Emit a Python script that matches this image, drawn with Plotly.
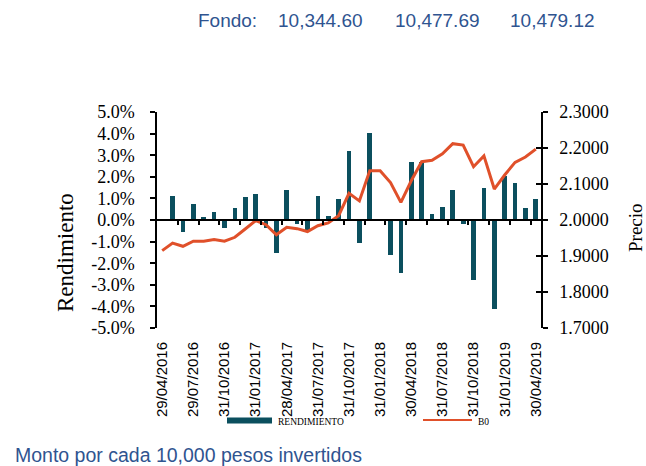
import plotly.graph_objects as go

# ---------------- data ----------------
meses = ["2016-04", "2016-05", "2016-06", "2016-07", "2016-08", "2016-09", "2016-10",
         "2016-11", "2016-12", "2017-01", "2017-02", "2017-03", "2017-04", "2017-05",
         "2017-06", "2017-07", "2017-08", "2017-09", "2017-10", "2017-11", "2017-12",
         "2018-01", "2018-02", "2018-03", "2018-04", "2018-05", "2018-06", "2018-07",
         "2018-08", "2018-09", "2018-10", "2018-11", "2018-12", "2019-01", "2019-02",
         "2019-03", "2019-04"]

rendimiento_pct = [0.00, 1.12, -0.54, 0.72, 0.14, 0.37, -0.35, 0.54, 1.05, 1.20,
                   -0.38, -1.54, 1.38, -0.20, -0.46, 1.12, 0.20, 0.97, 3.20, -1.05,
                   4.05, 0.02, -1.62, -2.46, 2.69, 2.69, 0.28, 0.62, 1.38, -0.20,
                   -2.77, 1.46, -4.11, 2.03, 1.72, 0.54, 0.97]

precio_b0 = [1.915, 1.936, 1.927, 1.941, 1.941, 1.946, 1.941, 1.952, 1.975, 1.998,
             1.987, 1.959, 1.980, 1.976, 1.968, 1.984, 1.992, 2.012, 2.074, 2.053,
             2.137, 2.137, 2.104, 2.049, 2.109, 2.162, 2.166, 2.184, 2.212, 2.208,
             2.148, 2.178, 2.086, 2.125, 2.160, 2.175, 2.197]

etiquetas_fecha = ["29/04/2016", "29/07/2016", "31/10/2016", "31/01/2017", "28/04/2017",
                   "31/07/2017", "31/10/2017", "31/01/2018", "30/04/2018", "31/07/2018",
                   "31/10/2018", "31/01/2019", "30/04/2019"]

y1_ticks = [0.05, 0.04, 0.03, 0.02, 0.01, 0.0, -0.01, -0.02, -0.03, -0.04, -0.05]
y1_text = ["5.0%", "4.0%", "3.0%", "2.0%", "1.0%", "0.0%", "-1.0%", "-2.0%",
           "-3.0%", "-4.0%", "-5.0%"]
y2_ticks = [2.3, 2.2, 2.1, 2.0, 1.9, 1.8, 1.7]
y2_text = ["2.3000", "2.2000", "2.1000", "2.0000", "1.9000", "1.8000", "1.7000"]

fondo_valores = ["10,344.60", "10,477.69", "10,479.12"]

# ---------------- layout geometry (page pixels) ----------------
W, H = 646, 466
PL, PR, PT, PB = 157, 541, 112, 328          # plot box in page pixels
L, R, T, B = PL, W - PR, PT, H - PB
PW, PH = PR - PL, PB - PT


def px(x):
    return (x - PL) / PW


def py(y):
    return (PB - y) / PH


BAR = "#0B4F5E"
LINE = "#E0502A"
BLUE = "#2F5490"
SERIF = "Liberation Serif, Times New Roman, serif"
SANS = "Liberation Sans, Arial, sans-serif"

idx = list(range(len(meses)))
rend = [v / 100 for v in rendimiento_pct]

fig = go.Figure()
fig.add_trace(go.Bar(x=idx, y=rend, name="RENDIMIENTO", marker_color=BAR,
                     marker_line_width=0, width=0.45, customdata=meses,
                     hovertemplate="%{customdata}: %{y:.2%}<extra></extra>"))
fig.add_trace(go.Scatter(x=idx, y=precio_b0, name="B0", yaxis="y2", mode="lines",
                         line=dict(color=LINE, width=3), customdata=meses,
                         hovertemplate="%{customdata}: %{y:.4f}<extra></extra>"))
# helper traces so the extra axes are drawn
fig.add_trace(go.Scatter(x=[], y=[], xaxis="x2", yaxis="y", showlegend=False, hoverinfo="skip"))
fig.add_trace(go.Scatter(x=[], y=[], yaxis="y3", showlegend=False, hoverinfo="skip"))

fig.update_layout(
    width=W, height=H, margin=dict(l=L, r=R, t=T, b=B, pad=0),
    paper_bgcolor="white", plot_bgcolor="white", showlegend=False, bargap=0,
    xaxis=dict(range=[-0.5, len(idx) - 0.5], tickmode="array",
               tickvals=idx[::3], ticktext=etiquetas_fecha, tickangle=-90,
               ticks="", showline=False, showgrid=False, zeroline=False,
               tickfont=dict(family=SANS, size=15, color="black"),
               ticklabelstandoff=10),
    xaxis2=dict(range=[-0.5, len(idx) - 0.5], overlaying="x", anchor="free",
                position=0.5, side="bottom", showline=True, linecolor="black",
                linewidth=1.5, ticks="outside", ticklen=4, tickwidth=1.5,
                tickcolor="black", tickmode="array",
                tickvals=[i + 0.5 for i in range(1, len(idx) - 1, 2)],
                showticklabels=False, showgrid=False, zeroline=False),
    yaxis=dict(range=[-0.05, 0.05], tickmode="array", tickvals=y1_ticks,
               ticktext=y1_text, ticks="outside", ticklen=5, tickwidth=1.5,
               tickcolor="black", showline=True, linecolor="black", linewidth=1.5,
               showgrid=False, zeroline=False,
               tickfont=dict(family=SERIF, size=18, color="black"),
               ticklabelstandoff=12),
    yaxis2=dict(range=[1.7, 2.3], overlaying="y", side="right", tickmode="array",
                tickvals=y2_ticks, ticktext=y2_text, ticks="outside", ticklen=5,
                tickwidth=1.5, tickcolor="black", showline=True, linecolor="black",
                linewidth=1.5, showgrid=False, zeroline=False,
                tickfont=dict(family=SERIF, size=18, color="black"),
                ticklabelstandoff=8),
    yaxis3=dict(range=[1.7, 2.3], overlaying="y", side="right", tickmode="array",
                tickvals=y2_ticks, ticks="inside", ticklen=5, tickwidth=1.5,
                tickcolor="black", showticklabels=False, showline=False,
                showgrid=False, zeroline=False),
)

ann = []
# axis titles
ann.append(dict(text="Rendimiento", x=px(65), y=py(253), textangle=-90,
                font=dict(family=SERIF, size=23, color="black")))
ann.append(dict(text="Precio", x=px(635), y=py(228), textangle=-90,
                font=dict(family=SERIF, size=19, color="black")))
# header
ann.append(dict(text="Fondo:", x=px(196), y=py(20), xanchor="left",
                font=dict(family=SANS, size=19, color=BLUE)))
for xpos, v in zip([276, 393, 508], fondo_valores):
    ann.append(dict(text=v, x=px(xpos), y=py(20), xanchor="left",
                    font=dict(family=SANS, size=19, color=BLUE)))
# footer
ann.append(dict(text="Monto por cada 10,000 pesos invertidos", x=px(13), y=py(455),
                xanchor="left", font=dict(family=SANS, size=19.5, color=BLUE)))
# legend labels
ann.append(dict(text="RENDIMIENTO", x=px(276), y=py(422), xanchor="left",
                font=dict(family=SERIF, size=9.5, color="black")))
ann.append(dict(text="B0", x=px(476), y=py(422), xanchor="left",
                font=dict(family=SERIF, size=9.5, color="black")))
for a in ann:
    a.update(xref="paper", yref="paper", showarrow=False, yanchor="middle")
    a.setdefault("xanchor", "center")
fig.update_layout(annotations=ann)

# legend keys
fig.add_shape(type="rect", xref="paper", yref="paper", x0=px(227), x1=px(272),
              y0=py(423.5), y1=py(417.5), fillcolor=BAR, line_width=0)
fig.add_shape(type="line", xref="paper", yref="paper", x0=px(423), x1=px(472),
              y0=py(420), y1=py(420), line=dict(color=LINE, width=2))

# remove the browser's default page margin so the 646x466 figure fills the window
fig.write_html("out.html", config={"displayModeBar": False},
               post_script="document.body.style.margin='0';"
                           "document.documentElement.style.overflow='hidden';")
